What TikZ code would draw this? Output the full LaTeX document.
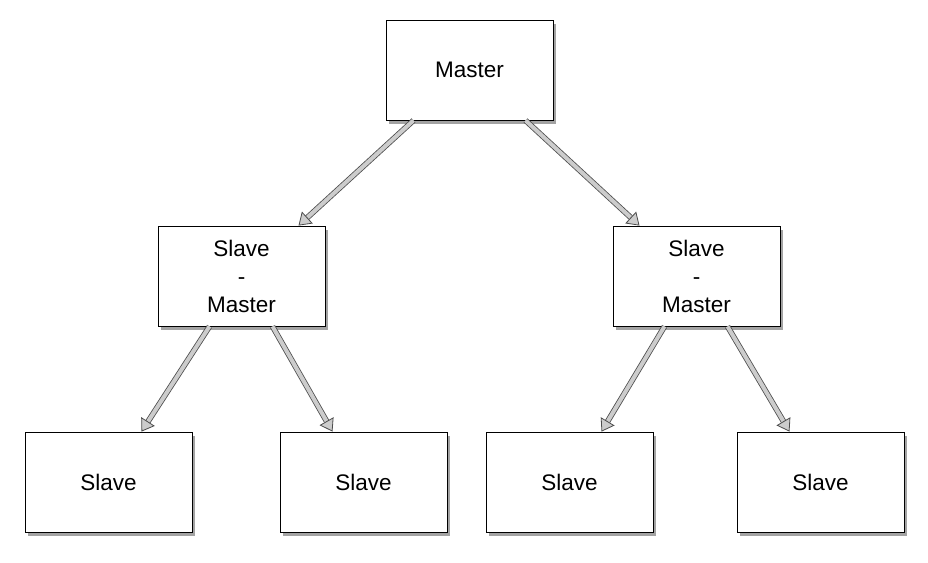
\documentclass[tikz,border=0pt]{standalone}
\usepackage{fontspec}
\setmainfont{Liberation Sans}
\usetikzlibrary{calc,shadows,arrows.meta}
\begin{document}
\begin{tikzpicture}[x=1pt,y=-1pt,
  box/.style={draw=black,line width=0.8pt,fill=white,minimum width=167pt,minimum height=100pt,inner sep=0pt,align=center,
    font=\fontsize{22.5}{28}\selectfont,
    drop shadow={shadow xshift=3pt,shadow yshift=-4pt,opacity=0.45,fill=black!80}},
  conn/.style={draw=black!70,line width=0.8pt,double=black!20,double distance=4pt,
    -{Triangle[length=12pt,width=16pt,fill=black!20]}}]
\useasboundingbox (0,0) rectangle (928,562);
\node[box] (M) at (469.5,70) {Master};
\node[box] (L) at (241.5,276) {Slave\\-\\Master};
\node[box] (R) at (696.5,276) {Slave\\-\\Master};
\node[box] (S1) at (108.5,482) {Slave};
\node[box] (S2) at (363.5,482) {Slave};
\node[box] (S3) at (569.5,482) {Slave};
\node[box] (S4) at (820.5,482) {Slave};
\draw[conn] ($(M.south)+(-56,0)$) -- ($(L.north)+(57,0)$);
\draw[conn] ($(M.south)+(56,0)$) -- ($(R.north)+(-57,0)$);
\draw[conn] ($(L.south)+(-32,0)$) -- ($(S1.north)+(33,0)$);
\draw[conn] ($(L.south)+(31,0)$) -- ($(S2.north)+(-31,0)$);
\draw[conn] ($(R.south)+(-32,0)$) -- ($(S3.north)+(32,0)$);
\draw[conn] ($(R.south)+(31,0)$) -- ($(S4.north)+(-31,0)$);
\end{tikzpicture}
\end{document}
